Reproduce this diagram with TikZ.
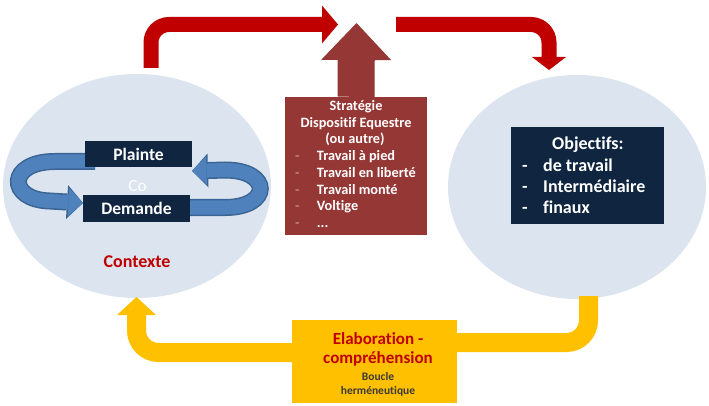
\documentclass[tikz,border=0pt]{standalone}
\usepackage{fontspec}
\setmainfont{Carlito}[Ligatures=NoCommon]
\usetikzlibrary{arrows.meta,shapes.geometric}
\definecolor{ellfill}{HTML}{DCE4F0}
\definecolor{navy}{HTML}{0F2540}
\definecolor{redarr}{HTML}{C00000}
\definecolor{stratred}{HTML}{953735}
\definecolor{gold}{HTML}{FFC000}
\definecolor{bluearr}{HTML}{4F81BD}
\definecolor{bluedark}{HTML}{3A6592}
\definecolor{txtred}{HTML}{C00000}
\definecolor{txtgrey}{HTML}{3A3A3A}
\definecolor{dashpale}{HTML}{D9A9A8}
\begin{document}
\begin{tikzpicture}[x=1pt,y=-1pt,
  ell/.style={ellipse, fill=ellfill, minimum width=268pt, minimum height=224pt, inner sep=0pt},
  navybox/.style={fill=navy, text=white, inner sep=0pt, font=\fontsize{17.5}{20}\selectfont\bfseries},
  redarrow/.style={draw=redarr, line width=15pt, rounded corners=18pt},
  yellowarrow/.style={draw=gold, line width=19pt, rounded corners=22pt},
  bluebodyA/.style={draw=bluedark, line width=17pt, -{Triangle[width=34pt,length=16pt,line width=0pt]}},
  bluebodyB/.style={draw=bluearr, line width=14pt, -{Triangle[width=28pt,length=14.5pt,line width=0pt]}},
  stxt/.style={text=white, inner sep=0pt, font=\fontsize{14.3}{16}\selectfont\bfseries},
  sdash/.style={text=dashpale, inner sep=0pt, anchor=base west, font=\fontsize{14.3}{16}\selectfont},
  otxt/.style={text=white, inner sep=0pt, anchor=base west, font=\fontsize{18}{21}\selectfont\bfseries},
  etxt/.style={text=txtred, inner sep=0pt, anchor=base, font=\fontsize{17}{20}\selectfont\bfseries},
  btxt/.style={text=txtgrey, inner sep=0pt, anchor=base, font=\fontsize{11.5}{13}\selectfont\bfseries},
]
\useasboundingbox[fill=white] (0,0) rectangle (709,406);

% ellipses
\node[ell] (ctx) at (137,186) {};
\node[ell, minimum width=258pt] (obj) at (577,187) {};

% red top arrows
\coordinate (r1s) at (151,68);
\coordinate (r1e) at (338,24.5);
\draw[redarrow, -{Triangle[width=38pt,length=16pt,line width=0pt]}] (r1s) |- (r1e);
\coordinate (r2s) at (396,24.5);
\coordinate (r2e) at (549,70);
\draw[redarrow, -{Triangle[width=34pt,length=13pt,line width=0pt]}] (r2s) -| (r2e);

% strategy box and big arrow
\node[fill=stratred, minimum width=142pt, minimum height=138pt, inner sep=0pt] (strat) at (356,166) {};
\coordinate (stip) at (356.5,23);
\draw[draw=stratred, line width=37pt, -{Triangle[width=70pt,length=37pt,line width=0pt]}] (strat.north) -- (stip);

\node[stxt, anchor=base] (s1) at (356,110.7) {Stratégie};
\node[stxt, anchor=base] (s2) at (356,127.3) {Dispositif Equestre};
\node[stxt, anchor=base] (s3) at (355,144) {(ou autre)};
\node[sdash] (d1) at (295,161) {-};
\node[stxt, anchor=base west] (l1) at (316.7,161) {Travail à pied};
\node[sdash] (d2) at (295,177.7) {-};
\node[stxt, anchor=base west] (l2) at (316.7,177.7) {Travail en liberté};
\node[sdash] (d3) at (295,194.3) {-};
\node[stxt, anchor=base west] (l3) at (316.7,194.3) {Travail monté};
\node[sdash] (d4) at (295,211) {-};
\node[stxt, anchor=base west] (l4) at (316.7,211) {Voltige};
\node[sdash] (d5) at (295,227.5) {-};
\node[stxt, anchor=base west] (l5) at (316.7,227.5) {...};

% blue circular arrows
\coordinate (bl0) at (95,161.5);
\coordinate (bl1) at (83,203);
\coordinate (br0) at (185,207.5);
\coordinate (br1) at (192,171);
\foreach \s in {bluebodyA,bluebodyB}{
  \draw[\s] (bl0) -- (55,161.5) .. controls (7,161.5) and (7,200) .. (50,201) -- (bl1);
  \draw[\s] (br0) -- (225,207.5) .. controls (272,207.5) and (272,170) .. (225,170) -- (br1);
}

% Plainte / Demande
\node[navybox, minimum width=107pt, minimum height=26pt] (plainte) at (138.5,154.5) {Plainte};
\node[navybox, minimum width=107pt, minimum height=27pt] (demande) at (136.5,208.5) {Demande};
\node[text=white, inner sep=0pt, anchor=base, font=\fontsize{17}{20}\selectfont] (co) at (137.5,191.7) {Co};
\node[text=txtred, inner sep=0pt, anchor=base, font=\fontsize{18}{20}\selectfont\bfseries] (contexte) at (137,267.3) {Contexte};

% Objectifs
\node[fill=navy, minimum width=153pt, minimum height=96pt, inner sep=0pt] (objbox) at (587.5,175.5) {};
\node[otxt] (o1) at (552,149.3) {Objectifs:};
\node[otxt] (od2) at (522,171.7) {-};
\node[otxt] (o2) at (543,171.7) {de travail};
\node[otxt] (od3) at (522,192.7) {-};
\node[otxt] (o3) at (543,192.7) {Intermédiaire};
\node[otxt] (od4) at (522,213.3) {-};
\node[otxt] (o4) at (543,213.3) {finaux};

% yellow loop
\coordinate (y1s) at (588.5,296);
\coordinate (y1e) at (420,342.5);
\draw[yellowarrow] (y1s) |- (y1e);
\coordinate (y2s) at (330,352.5);
\coordinate (y2e) at (136.5,297);
\draw[yellowarrow, -{Triangle[width=39pt,length=18pt,line width=0pt]}] (y2s) -| (y2e);

\node[fill=gold, minimum width=165pt, minimum height=83pt, inner sep=0pt] (elab) at (374.5,361.5) {};
\node[etxt] (e1) at (378,344.3) {Elaboration -};
\node[etxt] (e2) at (378,363.3) {compréhension};
\node[btxt] (e3) at (378,380) {Boucle};
\node[btxt] (e4) at (378,394) {herméneutique};
\end{tikzpicture}
\end{document}
